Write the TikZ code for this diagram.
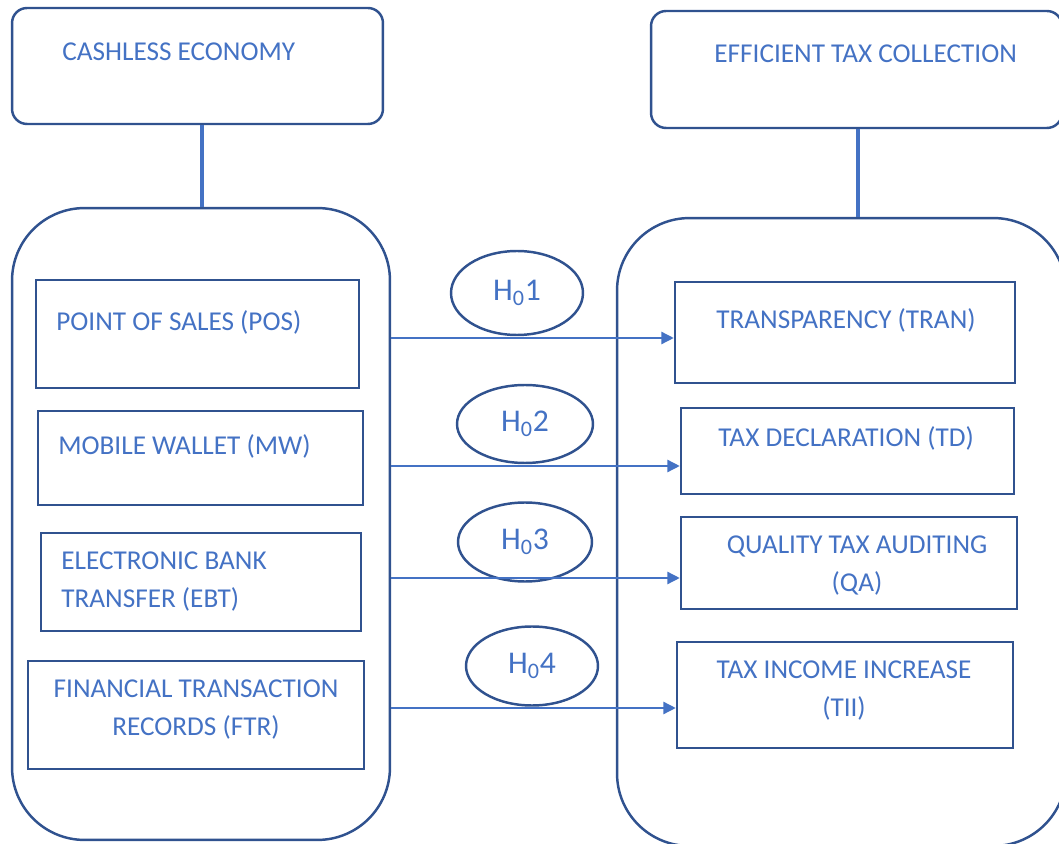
\documentclass[tikz,border=0pt]{standalone}
\usepackage{fontspec}
\setmainfont{Carlito}
\usepackage{xcolor}
\usepackage{tikz}
\usetikzlibrary{positioning,arrows.meta,shapes.geometric}
\definecolor{textblue}{HTML}{4472C4}
\definecolor{edgeblue}{HTML}{30528F}
\tikzset{
	frame/.style = {shape=rectangle, draw=edgeblue, line width=1.4pt,
		rounded corners=0.3cm},
	pool/.style  = {frame, rounded corners=1.45cm},
	item/.style  = {shape=rectangle, draw=edgeblue, line width=1.5pt},
	hyp/.style   = {shape=ellipse, draw=edgeblue, line width=1.4pt,
		inner sep=0pt, text=textblue, font=\fontsize{18}{20}\selectfont},
	txt/.style   = {text=textblue, inner sep=0pt, align=left,
		font=\fontsize{15.5}{21.6}\selectfont},
	link/.style  = {draw=textblue, line width=2.2pt},
	flow/.style  = {draw=textblue, line width=0.8pt,
		-{Triangle[length=7pt,width=7pt]}}
}

\begin{document}
\begin{tikzpicture}[x=0.02cm, y=-0.02cm]
\useasboundingbox (0,0) rectangle (1059,844);
\clip (0,0) rectangle (1059,844);

% headings
\node [frame, minimum width=7.42cm, minimum height=2.32cm] (ce) at (197.5,66) {};
\node [frame, minimum width=8.22cm, minimum height=2.34cm] (etc) at (856.5,69.5) {};
\node [txt, anchor=west] (ceT) at (62,52) {CASHLESS ECONOMY};
\node [txt, anchor=west] (etcT) at (714,54) {EFFICIENT TAX COLLECTION};

% the two groups
\node [pool, minimum width=7.56cm, minimum height=12.64cm] (lpool) at (201,524) {};
\node [pool, minimum width=8.98cm, minimum height=12.56cm] (rpool) at (841.5,532) {};
\draw [link] (ce.south -| 202,0) -- (lpool.north -| 202,0);
\draw [link] (etc.south -| 858,0) -- (rpool.north -| 858,0);

% independent variables
\node [item, minimum width=6.46cm, minimum height=2.16cm] (pos) at (197.5,334) {};
\node [item, minimum width=6.50cm, minimum height=1.88cm] (mw)  at (200.5,458) {};
\node [item, minimum width=6.40cm, minimum height=1.96cm] (ebt) at (201,582) {};
\node [item, minimum width=6.72cm, minimum height=2.16cm] (ftr) at (196,715) {};
\node [txt, anchor=west] (posT) at (56,322) {POINT OF SALES (POS)};
\node [txt, anchor=west] (mwT)  at (58,446) {MOBILE WALLET (MW)};
\node [txt, anchor=west] (ebtT) at (61,582) {ELECTRONIC BANK\\TRANSFER (EBT)};
\node [txt, align=center] (ftrT) at (196,710) {FINANCIAL TRANSACTION\\RECORDS (FTR)};

% dependent variables
\node [item, minimum width=6.80cm, minimum height=2.02cm] (tran) at (845,332.5) {};
\node [item, minimum width=6.66cm, minimum height=1.72cm] (td)   at (847.5,451) {};
\node [item, minimum width=6.72cm, minimum height=1.84cm] (qa)   at (849,563) {};
\node [item, minimum width=6.72cm, minimum height=2.12cm] (tii)  at (845,695) {};
\node [txt, anchor=west] (tranT) at (716,320) {TRANSPARENCY (TRAN)};
\node [txt, anchor=west] (tdT)   at (718,438) {TAX DECLARATION (TD)};
\node [txt, align=center] (qaT)  at (857,566) {QUALITY TAX AUDITING\\(QA)};
\node [txt, align=center] (tiiT) at (844,691) {TAX INCOME INCREASE\\(TII)};

% hypotheses
\node [hyp, minimum width=2.64cm, minimum height=1.68cm] (h1) at (517,293) {H\textsubscript{0}1};
\node [hyp, minimum width=2.72cm, minimum height=1.56cm] (h2) at (525,424) {H\textsubscript{0}2};
\node [hyp, minimum width=2.68cm, minimum height=1.58cm] (h3) at (525,542) {H\textsubscript{0}3};
\node [hyp, minimum width=2.64cm, minimum height=1.58cm] (h4) at (532,666) {H\textsubscript{0}4};

\draw [flow] (lpool.east |- 0,338) -- (tran.west |- 0,338);
\draw [flow] (lpool.east |- 0,466) -- (td.west |- 0,466);
\draw [flow] (lpool.east |- 0,578) -- (qa.west |- 0,578);
\draw [flow] (lpool.east |- 0,708) -- (tii.west |- 0,708);
\end{tikzpicture}
\end{document}
